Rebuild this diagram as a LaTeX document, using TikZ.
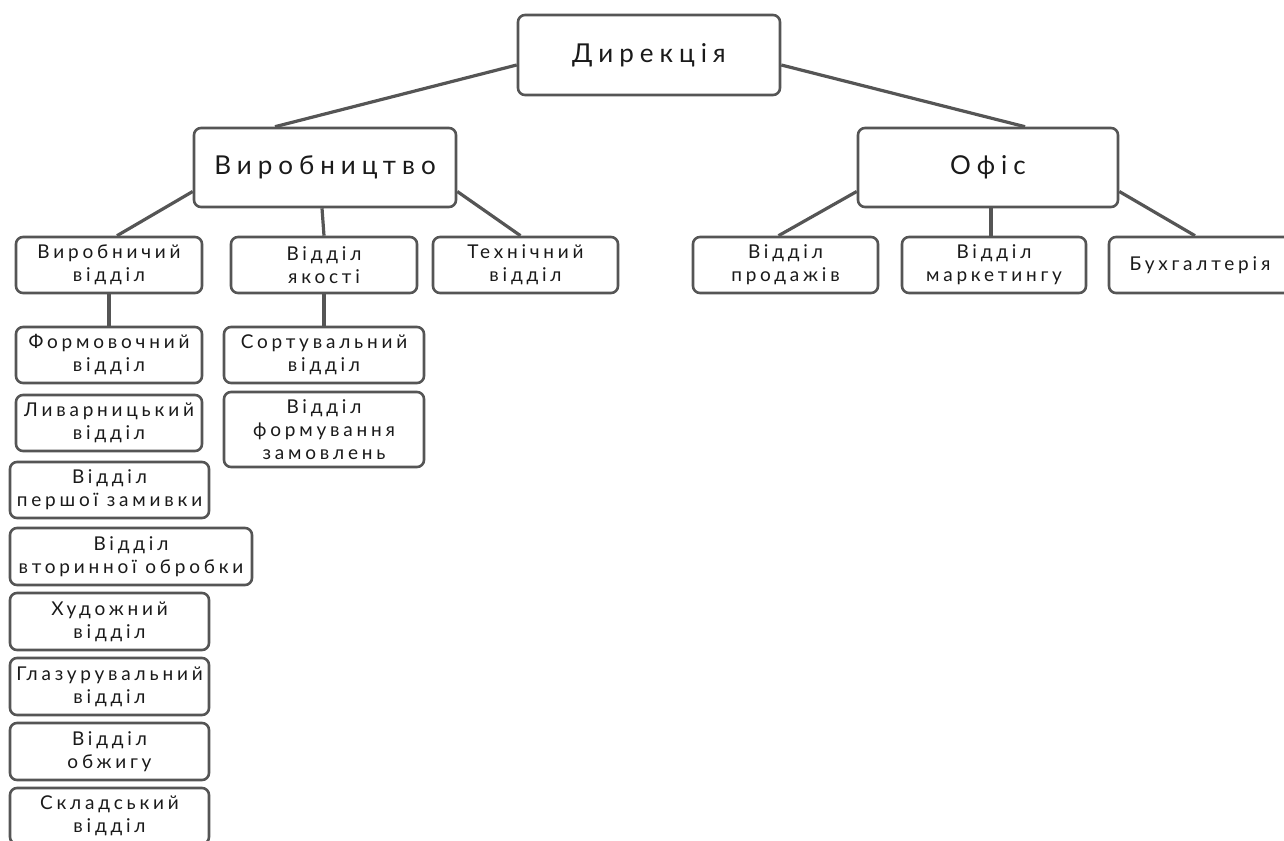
\documentclass[tikz,border=0pt]{standalone}
\usepackage{fontspec}
\setmainfont{Lato}
\newfontfamily\bigf{Lato}[LetterSpace=23]
\newfontfamily\smallf{Lato}[LetterSpace=20]
\definecolor{edge}{HTML}{555555}
\definecolor{ink}{HTML}{1A1A1A}
\begin{document}
\begin{tikzpicture}[x=1pt,y=-1pt,
  box/.style={draw=edge,line width=2.6pt,rounded corners=7pt,fill=white,inner sep=0pt,align=center,text=ink},
  big/.style={box,font=\bigf\fontsize{26}{30}\selectfont},
  small/.style={box,font=\smallf\fontsize{19}{23}\selectfont},
  link/.style={draw=edge,line width=3.2pt}]
\useasboundingbox (0,0) rectangle (1284,840);
\node[big,minimum width=262pt,minimum height=80pt] (dir) at (649,55) {Дирекція};
\node[big,minimum width=262pt,minimum height=79pt] (prod) at (325,167.5) {Виробництво};
\node[big,minimum width=260pt,minimum height=79pt] (ofis) at (988,167.5) {Офіс};
\node[small,minimum width=186pt,minimum height=56pt] (vv) at (109,265) {Виробничий\\відділ};
\node[small,minimum width=186pt,minimum height=56pt] (vyak) at (324,265) {Відділ\\якості};
\node[small,minimum width=185pt,minimum height=56pt] (tech) at (525.5,265) {Технічний\\відділ};
\node[small,minimum width=185pt,minimum height=56pt] (prodazh) at (785.5,265) {Відділ\\продажів};
\node[small,minimum width=184pt,minimum height=56pt] (mark) at (994,265) {Відділ\\маркетингу};
\node[small,minimum width=182pt,minimum height=56pt] (buh) at (1200,265) {Бухгалтерія};
\node[small,minimum width=186pt,minimum height=56pt] (form) at (109,355) {Формовочний\\відділ};
\node[small,minimum width=186pt,minimum height=56pt] (liv) at (109,423) {Ливарницький\\відділ};
\node[small,minimum width=199pt,minimum height=56pt] (persh) at (109.5,490) {Відділ\\першої замивки};
\node[small,minimum width=242pt,minimum height=57pt] (vtor) at (131,556.5) {Відділ\\вторинної обробки};
\node[small,minimum width=199pt,minimum height=57pt] (hud) at (109.5,621.5) {Художний\\відділ};
\node[small,minimum width=199pt,minimum height=57pt] (glaz) at (109.5,686.5) {Глазурувальний\\відділ};
\node[small,minimum width=199pt,minimum height=57pt] (obzh) at (109.5,751.5) {Відділ\\обжигу};
\node[small,minimum width=199pt,minimum height=56pt] (sklad) at (109.5,816) {Складський\\відділ};
\node[small,minimum width=200pt,minimum height=56pt] (sort) at (324,355) {Сортувальний\\відділ};
\node[small,minimum width=200pt,minimum height=75pt] (fzam) at (324,429.5) {Відділ\\формування\\замовлень};
\path[link] ([yshift=-10pt]dir.west) -- ([xshift=-50pt]prod.north);
\path[link] ([yshift=-10pt]dir.east) -- ([xshift=37pt]ofis.north);
\path[link] ([yshift=-24pt]prod.west) -- ([xshift=8pt]vv.north);
\path[link] ([xshift=-3pt]prod.south) -- (vyak.north);
\path[link] ([yshift=-24pt]prod.east) -- ([xshift=-5pt]tech.north);
\path[link] ([yshift=-24pt]ofis.west) -- ([xshift=-7pt]prodazh.north);
\path[link] ([xshift=3pt]ofis.south) -- ([xshift=-3pt]mark.north);
\path[link] ([yshift=-24pt]ofis.east) -- ([xshift=-5pt]buh.north);
\path[link] (vv.south) -- (form.north);
\path[link] (vyak.south) -- (sort.north);
\end{tikzpicture}
\end{document}
